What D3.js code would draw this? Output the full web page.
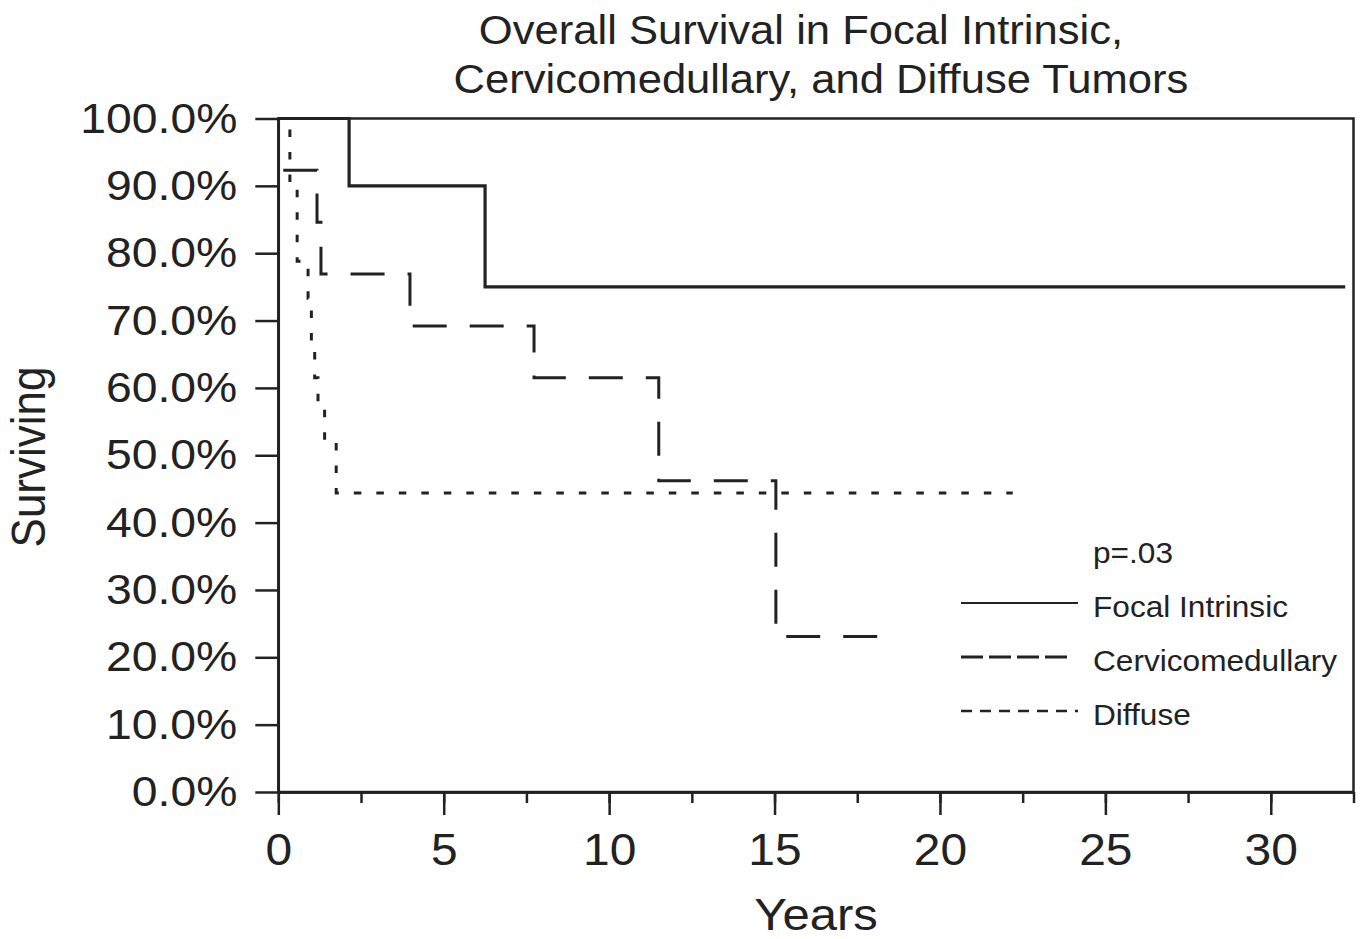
<!DOCTYPE html>
<head>
    <meta charset="utf-8">
    <script src="https://d3js.org/d3.v7.min.js"></script>
    <style type="text/css">
        body { margin: 0; background: #fff; }
        text { font-family: "Liberation Sans", Arial, sans-serif; fill: #222; }
    </style>
</head>
<body>

<script type="text/javascript">
    // data
    var focalTime = [0, 2.14, 6.25, 32.25],
        focalSurv = [100, 90, 75, 75];
    var cervTime = [0.15, 1.17, 1.29, 3.98, 7.73, 11.5, 15.04, 18.3],
        cervSurv = [92.3, 84.6, 76.9, 69.2, 61.5, 46.2, 23.1, 23.1];
    var diffTime = [0, 0.35, 0.57, 0.9, 1.0, 1.1, 1.2, 1.4, 1.75, 22.2],
        diffSurv = [100, 90.5, 78.8, 73.3, 67, 61.5, 57.5, 52, 44.4, 44.4];
    var seriesNames = ["Focal Intrinsic", "Cervicomedullary", "Diffuse"],
        xMajor = [0, 5, 10, 15, 20, 25, 30],
        yTicks = [0, 10, 20, 30, 40, 50, 60, 70, 80, 90, 100],
        titleLines = ["Overall Survival in Focal Intrinsic,", "Cervicomedullary, and Diffuse Tumors"],
        pValue = "p=.03";
</script>

<script type="text/javascript">
    var w = 1362, h = 939, sx = 1.09; // the text in the picture is a bit wide

    var x = d3.scaleLinear().domain([0, 32.5]).range([278.3, 1353.5]);
    var y = d3.scaleLinear().domain([0, 100]).range([792, 118.5]);

    var svg = d3.select("body").append("svg")
        .attr("width", w)
        .attr("height", h);

    // frame (top + right)
    svg.append("rect")
        .attr("x", x(0)).attr("y", y(100))
        .attr("width", x(32.5) - x(0)).attr("height", y(0) - y(100))
        .attr("fill", "none").attr("stroke", "#222").attr("stroke-width", 2.5);

    // x axis: minor then major ticks
    var xMinor = d3.range(0, 32.5 + 0.01, 2.5);
    svg.append("g")
        .attr("transform", "translate(0," + y(0) + ")")
        .call(d3.axisBottom(x).tickValues(xMinor).tickSize(11).tickSizeOuter(0).tickFormat(""));
    var gx = svg.append("g")
        .attr("transform", "translate(0," + y(0) + ")")
        .call(d3.axisBottom(x).tickValues(xMajor).tickSize(23).tickSizeOuter(0).tickPadding(19));
    gx.selectAll("text").style("font-size", "44px").attr("transform", "scale(" + sx + ",1)");

    var gy = svg.append("g")
        .attr("transform", "translate(" + x(0) + ",0)")
        .call(d3.axisLeft(y).tickValues(yTicks).tickSize(23).tickSizeOuter(0).tickPadding(14.6)
            .tickFormat(function(d) { return d.toFixed(1) + "%"; }));
    gy.selectAll("text").style("font-size", "42.5px").attr("transform", "scale(" + sx + ",1)");

    svg.selectAll(".domain, .tick line")
        .attr("stroke", "#222").attr("stroke-width", 2.5);
    svg.selectAll(".tick text").attr("fill", "#222");

    // curves
    var line = d3.line()
        .x(function(d) { return x(d[0]); })
        .y(function(d) { return y(d[1]); })
        .curve(d3.curveStepAfter);

    var series = [
        {t: focalTime, s: focalSurv, dash: null, lw: 3.2, legDash: null, legW: 2.2, legEnd: 1078},
        {t: cervTime, s: cervSurv, dash: "34,23", lw: 3, legDash: "22,6", legW: 3, legEnd: 1070},
        {t: diffTime, s: diffSurv, dash: "7.5,15", lw: 3, legDash: "11,8", legW: 2.5, legEnd: 1078}
    ];

    svg.selectAll("path.curve").data(series).enter().append("path")
        .attr("class", "curve")
        .attr("d", function(d) { return line(d3.zip(d.t, d.s)); })
        .attr("fill", "none")
        .attr("stroke", "#222")
        .attr("stroke-width", function(d) { return d.lw; })
        .attr("stroke-dasharray", function(d) { return d.dash; });

    // legend
    var leg = svg.append("g");
    leg.append("text")
        .attr("transform", "translate(1093,563) scale(" + sx + ",1)")
        .style("font-size", "29px")
        .text(pValue);
    series.forEach(function(d, i) {
        var ly = 603 + i * 54;
        leg.append("line")
            .attr("x1", 961).attr("x2", d.legEnd)
            .attr("y1", ly).attr("y2", ly)
            .attr("stroke", "#222")
            .attr("stroke-width", d.legW)
            .attr("stroke-dasharray", d.legDash);
        leg.append("text")
            .attr("transform", "translate(1093," + (ly + 14) + ") scale(" + sx + ",1)")
            .style("font-size", "29px")
            .text(seriesNames[i]);
    });

    // titles
    var titleCenters = [801, 821], titleBase = [44, 93];
    titleLines.forEach(function(t, i) {
        svg.append("text")
            .attr("transform", "translate(" + titleCenters[i] + "," + titleBase[i] + ") scale(" + sx + ",1)")
            .attr("text-anchor", "middle")
            .style("font-size", "40px")
            .text(t);
    });

    svg.append("text")
        .attr("transform", "translate(816,930) scale(" + sx + ",1)")
        .attr("text-anchor", "middle")
        .style("font-size", "45px")
        .text("Years");

    svg.append("text")
        .attr("transform", "translate(45,457) scale(" + sx + ",1) rotate(-90)")
        .attr("text-anchor", "middle")
        .style("font-size", "44px")
        .text("Surviving");
</script>
</body>
</html>
